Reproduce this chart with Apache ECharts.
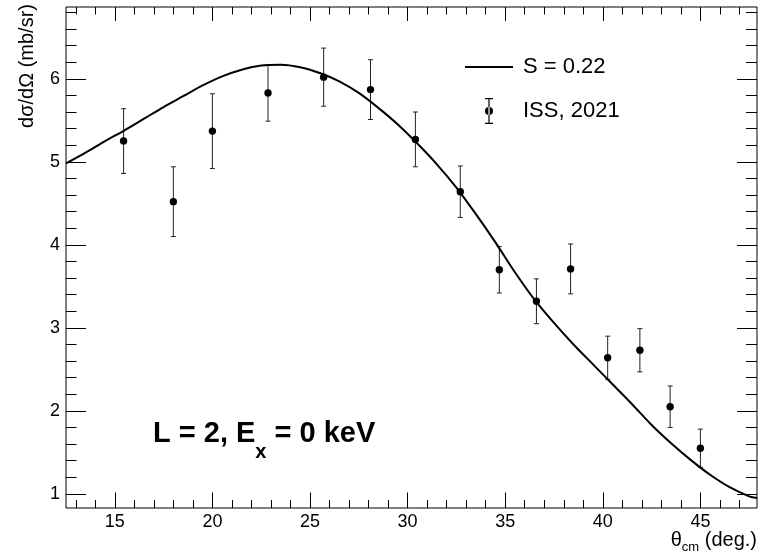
<!DOCTYPE html>
<html>
<head>
<meta charset="utf-8">
<title>L = 2, Ex = 0 keV</title>
<script src="https://cdn.jsdelivr.net/npm/echarts@6/dist/echarts.min.js"></script>
<style>
html, body { margin: 0; padding: 0; background: #fff; }
#chart { width: 758px; height: 557px; }
</style>
</head>
<body>
<div id="chart"></div>
<script>
// measured points (ISS, 2021)
const thetaData = [15.45, 18.0, 20.0, 22.85, 25.7, 28.1, 30.4, 32.7, 34.7, 36.6, 38.35, 40.25, 41.9, 43.45, 45.0];
const xsData = [5.25, 4.52, 5.37, 5.83, 6.02, 5.87, 5.27, 4.64, 3.70, 3.32, 3.71, 2.64, 2.73, 2.05, 1.55];
const errData = [0.39, 0.42, 0.45, 0.34, 0.35, 0.36, 0.33, 0.31, 0.28, 0.27, 0.30, 0.26, 0.26, 0.25, 0.23];

const curveTheta = [12.5, 13.5, 14.5, 15.5, 16.5, 17.5, 18.5, 19.5, 20.5, 21.5, 22.5, 23.5, 24.5, 25.5, 26.5, 27.5, 28.5, 29.5,
  30.5, 31.5, 32.5, 33.5, 34.5, 35.5, 36.5, 37.5, 38.5, 39.5, 40.5, 41.5, 42.5, 43.5, 44.5, 45.5, 46.5, 47.5, 47.9];
const curveXs = [4.98, 5.11, 5.25, 5.38, 5.52, 5.66, 5.79, 5.92, 6.03, 6.11, 6.16, 6.17, 6.14, 6.07, 5.97, 5.83, 5.65, 5.45,
  5.22, 4.97, 4.69, 4.37, 4.03, 3.67, 3.34, 3.06, 2.80, 2.56, 2.32, 2.08, 1.83, 1.61, 1.41, 1.23, 1.08, 0.97, 0.95];

// tick values
const xMajor = [15, 20, 25, 30, 35, 40, 45];
const xMinor = [13, 14, 16, 17, 18, 19, 21, 22, 23, 24, 26, 27, 28, 29, 31, 32, 33, 34, 36, 37, 38, 39, 41, 42, 43, 44, 46, 47];
const yMajor = [1, 2, 3, 4, 5, 6];
const yMinor = [1.2, 1.4, 1.6, 1.8, 2.2, 2.4, 2.6, 2.8, 3.2, 3.4, 3.6, 3.8, 4.2, 4.4, 4.6, 4.8, 5.2, 5.4, 5.6, 5.8, 6.2, 6.4, 6.6, 6.8];

const FONT = '"Liberation Sans", Arial, Helvetica, sans-serif';
const X_MIN = 12.5, X_MAX = 47.9;
const Y_MIN = 0.83, Y_MAX = 6.865;

const ERR_ICON = 'path://M0,0h8v1.2h-8z M3.4,0h1.2v26h-1.2z M0,24.8h8v1.2h-8z M0,13a4,4 0 1,0 8,0a4,4 0 1,0 -8,0z';

const chart = echarts.init(document.getElementById('chart'), null, { renderer: 'canvas' });

// one axis per tick set, so major and minor ticks can have different lengths
const makeX = (position, values, len, withLabel) => ({
  type: 'value', min: X_MIN, max: X_MAX, position: position,
  axisLine: { show: false },
  splitLine: { show: false },
  axisTick: { show: true, inside: true, length: len, customValues: values, lineStyle: { color: '#000', width: 1 } },
  axisLabel: withLabel
    ? { show: true, customValues: values, fontSize: 18, color: '#000', fontFamily: FONT, margin: 5 }
    : { show: false }
});
const makeY = (position, values, len, withLabel) => ({
  type: 'value', min: Y_MIN, max: Y_MAX, position: position,
  axisLine: { show: false },
  splitLine: { show: false },
  axisTick: { show: true, inside: true, length: len, customValues: values, lineStyle: { color: '#000', width: 1 } },
  axisLabel: withLabel
    ? { show: true, customValues: values, fontSize: 18, color: '#000', fontFamily: FONT, margin: 6 }
    : { show: false }
});

const option = {
  animation: false,
  backgroundColor: '#fff',
  grid: { left: 66, right: 1, top: 7, bottom: 49, show: true, borderColor: '#000', borderWidth: 1, containLabel: false, outerBoundsMode: 'none' },
  xAxis: [
    makeX('bottom', xMajor, 15.5, true),
    makeX('bottom', xMinor, 8, false),
    makeX('top', xMajor, 14, false),
    makeX('top', xMinor, 7.5, false)
  ],
  yAxis: [
    makeY('left', yMajor, 20, true),
    makeY('left', yMinor, 10.5, false),
    makeY('right', yMajor, 20, false),
    makeY('right', yMinor, 11, false)
  ],
  legend: {
    orient: 'vertical',
    left: 460,
    top: 51,
    itemWidth: 48,
    itemHeight: 26,
    itemGap: 20,
    selectedMode: false,
    textStyle: { fontSize: 22, color: '#000', fontFamily: FONT, padding: [0, 0, 0, 5] },
    data: [
      { name: 'S = 0.22', icon: 'path://M0,0h48v2h-48z', itemStyle: { color: '#000', borderWidth: 0 } },
      { name: 'ISS, 2021', icon: ERR_ICON, itemStyle: { color: '#000', borderWidth: 0 } }
    ]
  },
  graphic: [
    {
      type: 'text', x: 27, y: 4, rotation: Math.PI / 2,
      style: { text: 'dσ/dΩ (mb/sr)', fontSize: 20, fontFamily: FONT, fill: '#000', align: 'right', verticalAlign: 'middle' }
    },
    {
      type: 'text', right: 1, top: 530,
      style: {
        text: '{t|θ}{s|cm}{t| (deg.)}',
        rich: {
          t: { fontSize: 20, fontFamily: FONT, fill: '#000', verticalAlign: 'top', lineHeight: 22 },
          s: { fontSize: 13, fontFamily: FONT, fill: '#000', verticalAlign: 'top', lineHeight: 13, padding: [11, 0, 0, 0] }
        }
      }
    },
    {
      type: 'text', left: 153, top: 419,
      style: {
        text: '{a|L = 2, E}{s|x}{a| = 0 keV}',
        rich: {
          a: { fontSize: 29, fontWeight: 'bold', fontFamily: FONT, fill: '#000', verticalAlign: 'top', lineHeight: 32 },
          s: { fontSize: 20, fontWeight: 'bold', fontFamily: FONT, fill: '#000', verticalAlign: 'top', lineHeight: 20, padding: [23, 0, 0, 0] }
        }
      }
    }
  ],
  series: [
    {
      name: 'ISS, 2021',
      type: 'custom',
      xAxisIndex: 0,
      yAxisIndex: 0,
      itemStyle: { color: '#000' },
      encode: { x: 0, y: 1 },
      data: thetaData.map((t, i) => [t, xsData[i], errData[i]]),
      renderItem: function (params, api) {
        const x = api.value(0), y = api.value(1), e = api.value(2);
        const c = api.coord([x, y]);
        const hi = api.coord([x, y + e]);
        const lo = api.coord([x, y - e]);
        const barStyle = { stroke: '#222', lineWidth: 1 };
        return {
          type: 'group',
          children: [
            { type: 'line', shape: { x1: c[0], y1: hi[1], x2: c[0], y2: lo[1] }, style: barStyle },
            { type: 'line', shape: { x1: c[0] - 2.5, y1: hi[1], x2: c[0] + 2.5, y2: hi[1] }, style: barStyle },
            { type: 'line', shape: { x1: c[0] - 2.5, y1: lo[1], x2: c[0] + 2.5, y2: lo[1] }, style: barStyle },
            { type: 'circle', shape: { cx: c[0], cy: c[1], r: 3.7 }, style: { fill: '#000' } }
          ]
        };
      },
      z: 2
    },
    {
      name: 'S = 0.22',
      type: 'line',
      xAxisIndex: 0,
      yAxisIndex: 0,
      data: curveTheta.map((t, i) => [t, curveXs[i]]),
      smooth: 0.3,
      showSymbol: false,
      color: '#000',
      lineStyle: { color: '#000', width: 2 },
      z: 3
    }
  ]
};

chart.setOption(option);
</script>
</body>
</html>
